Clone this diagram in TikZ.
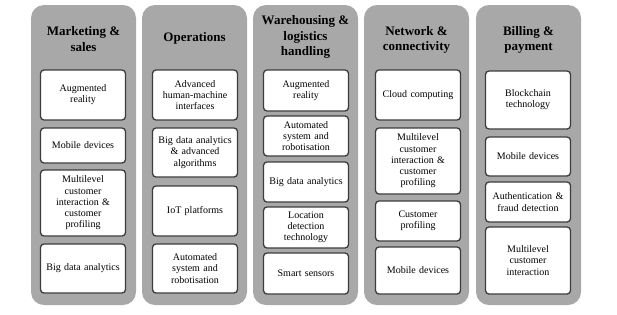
\documentclass[tikz,border=0pt]{standalone}
\usepackage{fontspec}
\setmainfont{Liberation Serif}
\definecolor{colgray}{RGB}{168,168,168}
\definecolor{boxedge}{RGB}{60,60,60}
\tikzset{
  column/.style={draw=none, fill=colgray, rounded corners=13pt, minimum width=105pt, minimum height=300pt, inner sep=0pt},
  title/.style={font=\fontsize{13}{15.5}\selectfont\bfseries, align=center, inner sep=0pt},
  ibox/.style={draw=boxedge, line width=1.3pt, fill=white, rounded corners=3.5pt, minimum width=85pt, inner sep=0pt, text width=82pt, align=center, font=\fontsize{10}{11.2}\selectfont},
}
\begin{document}
\begin{tikzpicture}[x=1pt,y=-1pt]
\useasboundingbox (0,0) rectangle (617,314);
% columns
\node[column] (c1) at (83.5,155) {};
\node[column] (c2) at (194.5,155) {};
\node[column] (c3) at (305.5,155) {};
\node[column] (c4) at (416.5,155) {};
\node[column] (c5) at (528.5,155) {};
% titles
\node[title] (t1) at (83.5,39) {Marketing \&\\sales};
\node[title] (t2) at (194.5,38) {Operations};
\node[title] (t3) at (305.5,37) {Warehousing \&\\logistics\\handling};
\node[title] (t4) at (416.5,40) {Network \&\\connectivity};
\node[title] (t5) at (528.5,40) {Billing \&\\payment};
% column 1
\node[ibox, minimum height=50pt] (a1) at (83,95) {Augmented\\reality};
\node[ibox, minimum height=35pt] (a2) at (83,145.5) {Mobile devices};
\node[ibox, minimum height=66pt] (a3) at (83,203) {Multilevel\\customer\\interaction \&\\customer\\profiling};
\node[ibox, minimum height=49pt] (a4) at (83,268.5) {Big data analytics};
% column 2
\node[ibox, minimum height=50pt] (b1) at (195,95) {Advanced\\human-machine\\interfaces};
\node[ibox, minimum height=49pt] (b2) at (195,152.5) {Big data analytics\\\& advanced\\algorithms};
\node[ibox, minimum height=50pt] (b3) at (195,211) {IoT platforms};
\node[ibox, minimum height=49pt] (b4) at (195,268.5) {Automated\\system and\\robotisation};
% column 3
\node[ibox, minimum height=41pt] (w1) at (306,90.5) {Augmented\\reality};
\node[ibox, minimum height=40pt] (w2) at (306,136) {Automated\\system and\\robotisation};
\node[ibox, minimum height=40pt] (w3) at (306,182) {Big data analytics};
\node[ibox, minimum height=41pt] (w4) at (306,227.5) {Location\\detection\\technology};
\node[ibox, minimum height=41pt] (w5) at (306,273.5) {Smart sensors};
% column 4
\node[ibox, minimum height=50pt] (n1) at (418,95) {Cloud computing};
\node[ibox, minimum height=66pt] (n2) at (418,161) {Multilevel\\customer\\interaction \&\\customer\\profiling};
\node[ibox, minimum height=40pt] (n3) at (418,221) {Customer\\profiling};
\node[ibox, minimum height=47pt] (n4) at (418,270.5) {Mobile devices};
% column 5
\node[ibox, minimum height=58pt] (p1) at (528,100) {Blockchain\\technology};
\node[ibox, minimum height=39pt] (p2) at (528,156.5) {Mobile devices};
\node[ibox, minimum height=40pt] (p3) at (528,202) {Authentication \&\\fraud detection};
\node[ibox, minimum height=67pt] (p4) at (528,260.5) {Multilevel\\customer\\interaction};
\end{tikzpicture}
\end{document}
